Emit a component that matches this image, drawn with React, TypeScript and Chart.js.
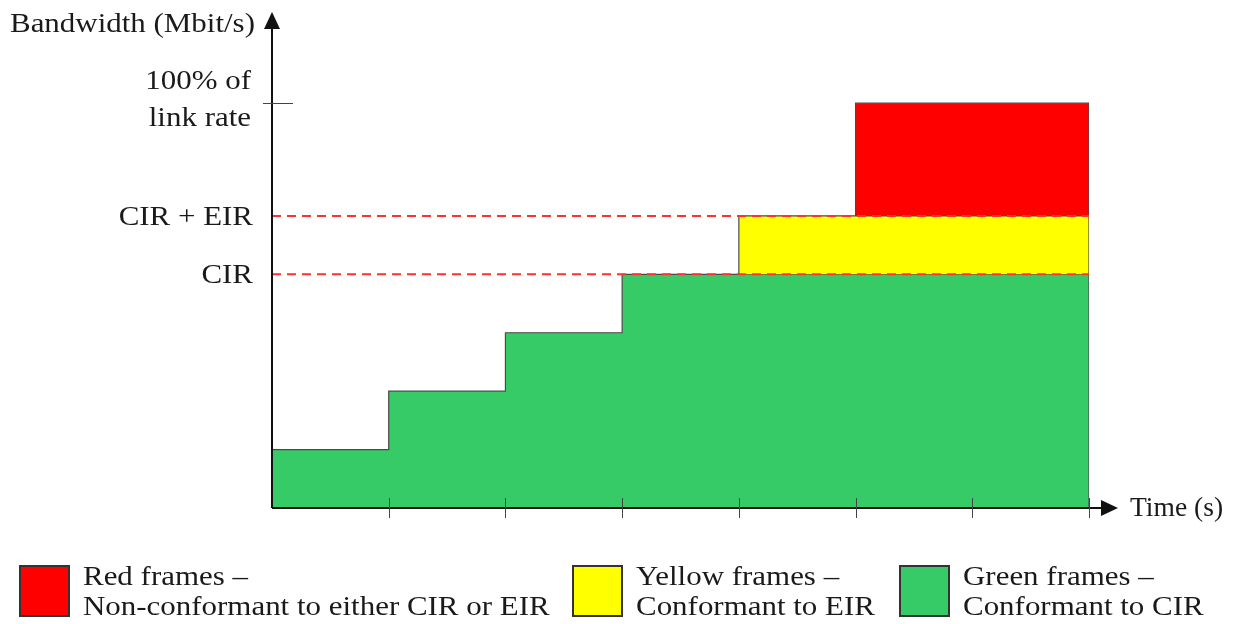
import React, { useEffect, useRef } from "react";
import { Chart, registerables } from "chart.js";

Chart.register(...registerables);

// ---- data ----
const timeTicks = [0, 1, 2, 3, 4, 5, 6, 7];
const greenRate = [1, 2, 3, 4, 4, 4, 4];
const yellowRate = [0, 0, 0, 0, 1, 1, 1];
const redRate = [0, 0, 0, 0, 0, 1.93, 1.93];
const CIR = 4;
const CIR_EIR = 5;
const LINK_RATE = 6.93;
const Y_MAX = 8.44;
const yTickLabels = [
  { value: CIR, lines: ["CIR"] },
  { value: CIR_EIR, lines: ["CIR + EIR"] },
  { value: LINK_RATE, lines: ["100% of", "link rate"] },
];
const legendItems = [
  { color: "#FF0000", lines: ["Red frames –", "Non-conformant to either CIR or EIR"] },
  { color: "#FFFF00", lines: ["Yellow frames –", "Conformant to EIR"] },
  { color: "#37CB68", lines: ["Green frames –", "Conformant to CIR"] },
];
const yAxisTitle = "Bandwidth (Mbit/s)";
const xAxisTitle = "Time (s)";

function layerPoints(bottom: number[], rate: number[]) {
  const idx = rate.map((r, i) => (r > 0 ? i : -1)).filter((i) => i >= 0);
  const first = idx[0];
  const last = idx[idx.length - 1];
  const pts: { x: number; y: number }[] = [{ x: timeTicks[first], y: bottom[first] }];
  for (let i = first; i <= last; i++) {
    const top = bottom[i] + rate[i];
    pts.push({ x: timeTicks[i], y: top }, { x: timeTicks[i + 1], y: top });
  }
  pts.push({ x: timeTicks[last + 1], y: bottom[last] });
  return { pts, base: bottom[first] };
}

const FONT = '27px "Liberation Serif", "Times New Roman", serif';
const TEXT = "#1a1a1a";
const STRETCH = 1.146;

export default function App() {
  const ref = useRef<HTMLCanvasElement | null>(null);
  useEffect(() => {
    if (!ref.current) return;
    const zeros = greenRate.map(() => 0);
    const yBottom = greenRate.slice();
    const rBottom = greenRate.map((g, i) => g + yellowRate[i]);
    const green = layerPoints(zeros, greenRate);
    const yellow = layerPoints(yBottom, yellowRate);
    const red = layerPoints(rBottom, redRate);
    const outline = "#4a4a4a";

    const drawText = (
      ctx: CanvasRenderingContext2D,
      t: string,
      x: number,
      y: number,
      align: "left" | "right",
      stretch = STRETCH
    ) => {
      ctx.save();
      ctx.translate(x, y + 2);
      ctx.scale(stretch, 1);
      ctx.textAlign = align;
      ctx.textBaseline = "middle";
      ctx.fillText(t, 0, 0);
      ctx.restore();
    };

    const decor = {
      id: "decor",
      afterDraw(chart: any) {
        const ctx = chart.ctx as CanvasRenderingContext2D;
        const xs = chart.scales.x;
        const ys = chart.scales.y;
        const x0 = xs.getPixelForValue(0);
        const y0 = ys.getPixelForValue(0);
        ctx.save();
        // axes
        ctx.strokeStyle = "#111";
        ctx.fillStyle = "#111";
        ctx.lineWidth = 2;
        ctx.beginPath();
        ctx.moveTo(x0, y0);
        ctx.lineTo(x0, 26);
        ctx.moveTo(x0, y0);
        ctx.lineTo(1103, y0);
        ctx.stroke();
        ctx.beginPath();
        ctx.moveTo(x0, 12);
        ctx.lineTo(x0 - 8, 29);
        ctx.lineTo(x0 + 8, 29);
        ctx.closePath();
        ctx.fill();
        ctx.beginPath();
        ctx.moveTo(1118, y0);
        ctx.lineTo(1101, y0 - 8);
        ctx.lineTo(1101, y0 + 8);
        ctx.closePath();
        ctx.fill();
        // x ticks
        ctx.lineWidth = 1;
        ctx.strokeStyle = "#444";
        ctx.beginPath();
        timeTicks.slice(1).forEach((t) => {
          const px = Math.round(xs.getPixelForValue(t)) + 0.5;
          ctx.moveTo(px, y0 - 10);
          ctx.lineTo(px, y0 + 10);
        });
        // 100% tick
        const ly = Math.round(ys.getPixelForValue(LINK_RATE)) + 0.5;
        ctx.moveTo(x0 - 9, ly);
        ctx.lineTo(x0 + 21, ly);
        ctx.stroke();
        // labels
        ctx.font = FONT;
        ctx.fillStyle = TEXT;
        yTickLabels.forEach((l) => {
          const py = ys.getPixelForValue(l.value);
          if (l.lines.length === 1) {
            drawText(ctx, l.lines[0], 253, py, "right");
          } else {
            drawText(ctx, l.lines[0], 251, py - 23, "right");
            drawText(ctx, l.lines[1], 251, py + 14, "right");
          }
        });
        drawText(ctx, yAxisTitle, 10, 23, "left");
        drawText(ctx, xAxisTitle, 1130, y0 - 1, "left", 1.02);
        // legend
        const boxX = [20, 573, 900];
        legendItems.forEach((it, i) => {
          ctx.fillStyle = it.color;
          ctx.fillRect(boxX[i], 566, 49, 50);
          ctx.strokeStyle = "#333";
          ctx.lineWidth = 2;
          ctx.strokeRect(boxX[i], 566, 49, 50);
          ctx.fillStyle = TEXT;
          drawText(ctx, it.lines[0], boxX[i] + 63, 576, "left");
          drawText(ctx, it.lines[1], boxX[i] + 63, 606, "left");
        });
        ctx.restore();
      },
    };

    const chart = new Chart(ref.current, {
      type: "line",
      data: {
        datasets: [
          {
            label: "CIR",
            data: [{ x: 0, y: CIR }, { x: 7, y: CIR }],
            borderColor: "#FF3030",
            borderWidth: 2,
            borderDash: [9, 6],
            pointRadius: 0,
            fill: false,
            order: 0,
          },
          {
            label: "CIR + EIR",
            data: [{ x: 0, y: CIR_EIR }, { x: 7, y: CIR_EIR }],
            borderColor: "#FF3030",
            borderWidth: 2,
            borderDash: [9, 6],
            pointRadius: 0,
            fill: false,
            order: 0,
          },
          {
            label: "Red frames",
            data: red.pts,
            backgroundColor: "#FF0000",
            borderColor: outline,
            borderWidth: 1.2,
            pointRadius: 0,
            fill: { value: red.base },
            order: 1,
          },
          {
            label: "Yellow frames",
            data: yellow.pts,
            backgroundColor: "#FFFF00",
            borderColor: outline,
            borderWidth: 1.2,
            pointRadius: 0,
            fill: { value: yellow.base },
            order: 2,
          },
          {
            label: "Green frames",
            data: green.pts,
            backgroundColor: "#37CB68",
            borderColor: outline,
            borderWidth: 1.2,
            pointRadius: 0,
            fill: "origin",
            order: 3,
          },
        ],
      },
      options: {
        responsive: false,
        animation: false,
        layout: { padding: { left: 272, right: 153, top: 15, bottom: 116 } },
        scales: {
          x: { type: "linear", min: 0, max: 7, display: false },
          y: { type: "linear", min: 0, max: Y_MAX, display: false },
        },
        elements: { line: { tension: 0 } },
        plugins: { legend: { display: false }, tooltip: { enabled: false } },
      },
      plugins: [decor],
    });
    return () => chart.destroy();
  }, []);
  return (
    <div style={{ position: "absolute", left: 0, top: 0, width: 1242, height: 624, background: "#fff" }}>
      <canvas ref={ref} width={1242} height={624} style={{ display: "block" }} />
    </div>
  );
}
